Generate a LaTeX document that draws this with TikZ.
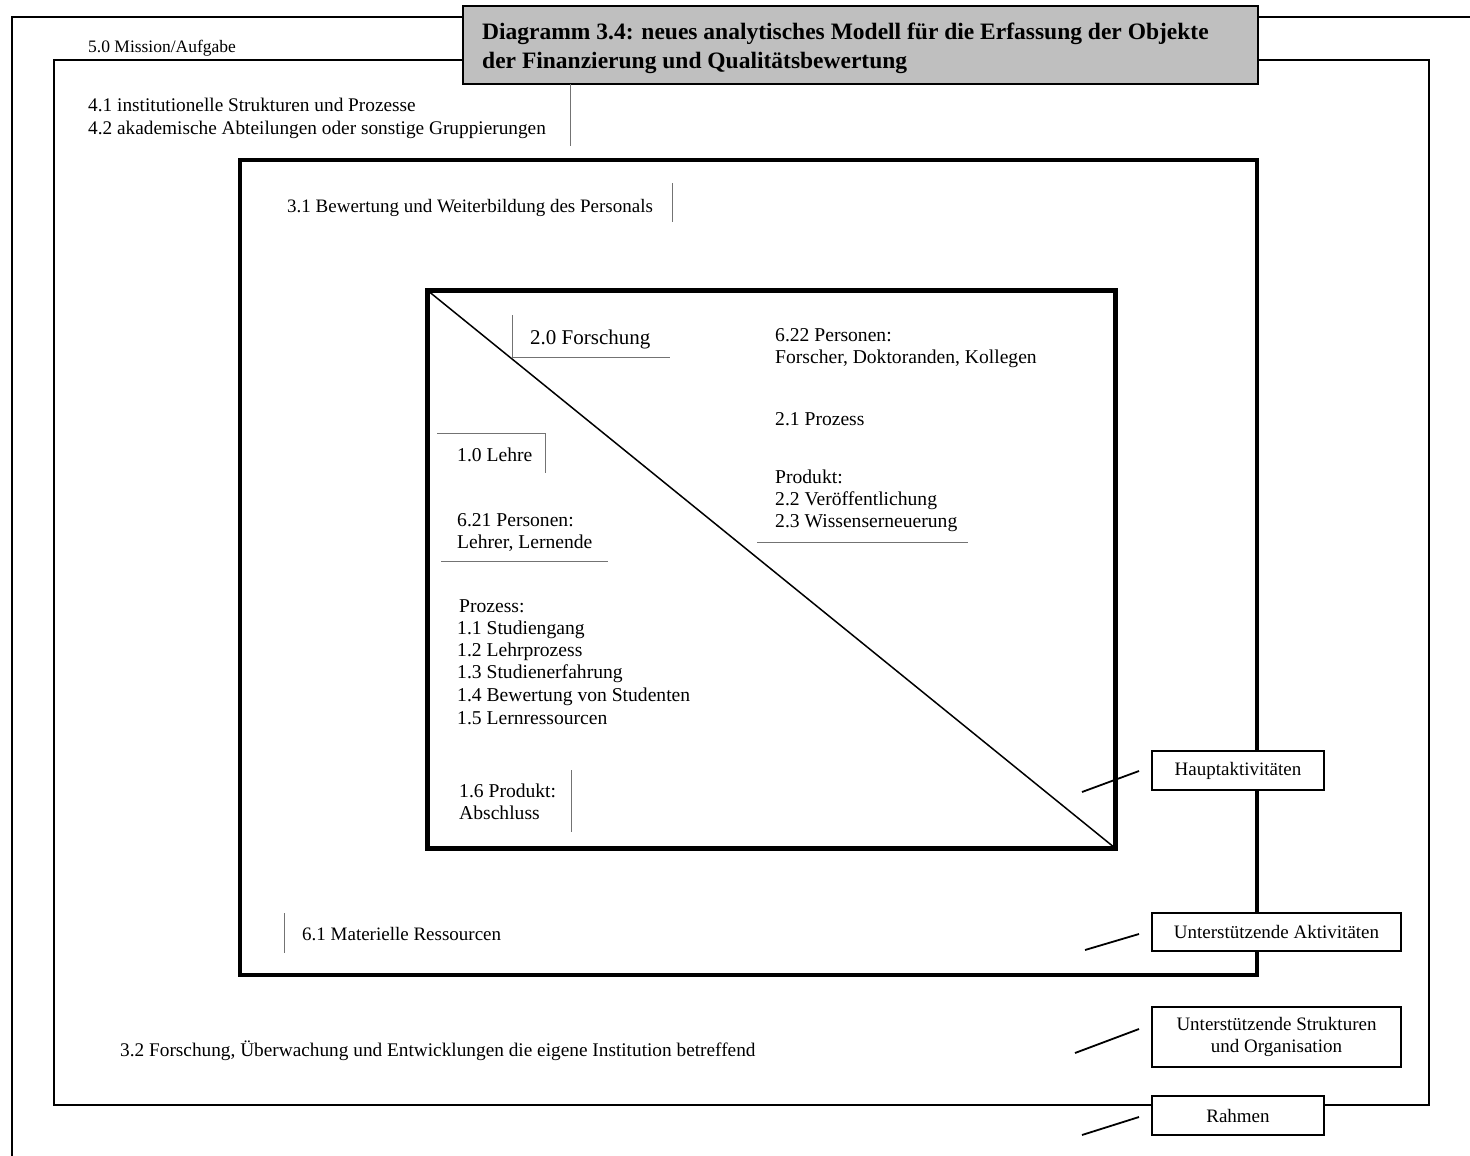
\documentclass[tikz,border=0pt]{standalone}
\usepackage{fontspec}
\setmainfont{Liberation Serif}
\begin{document}
\begin{tikzpicture}[x=1pt,y=-1pt,
  frame/.style={line width=1.5pt},
  thickframe/.style={line width=3.5pt},
  coreframe/.style={line width=5pt},
  guide/.style={line width=0.6pt,draw=black!55},
  smalllbl/.style={anchor=base west,inner sep=0pt,font=\fontsize{17.5}{20}\selectfont},
  lbl/.style={anchor=base west,inner sep=0pt,font=\fontsize{19.3}{22}\selectfont},
  midlbl/.style={anchor=base west,inner sep=0pt,font=\fontsize{19}{22}\selectfont},
  corelbl/.style={anchor=base west,inner sep=0pt,font=\fontsize{19.6}{23}\selectfont},
  keybox/.style={draw,line width=2pt,fill=white,inner sep=2pt,align=center,
    font=\fontsize{19}{22}\selectfont},
  leader/.style={line width=1.8pt}]
\useasboundingbox (0,0) rectangle (1470,1156);

% framework (outermost, open to the page edges)
\draw[frame] (1470,17) -- (12,17) -- (12,1156);

% mission frame
\draw[frame] (54,60) rectangle (1429,1105);

% support activities frame
\draw[thickframe] (240,160) rectangle (1257,975);

% core activities frame with the teaching/research split
\draw[coreframe] (427,290) rectangle (1115,848);
\coordinate (cornerTL) at (427,290);
\coordinate (cornerBR) at (1115,848);
\draw[line width=1.5pt] (cornerTL) -- (cornerBR);

% title
\node[draw,line width=2pt,fill=black!25,minimum width=795pt,minimum height=78pt,anchor=north west,inner sep=0pt] (title) at (462,5) {};
\node[anchor=base west,inner sep=0pt,font=\bfseries\fontsize{23.5}{26}\selectfont] (title1) at (482,40) {Diagramm 3.4: neues analytisches Modell für die Erfassung der Objekte};
\node[anchor=base west,inner sep=0pt,font=\bfseries\fontsize{23.5}{26}\selectfont] (title2) at (482,69) {der Finanzierung und Qualitätsbewertung};

% outer labels
\node[smalllbl] (mission) at (88,53) {5.0 Mission/Aufgabe};
\node[lbl] (inst1) at (88,111) {4.1 institutionelle Strukturen und Prozesse};
\node[lbl] (inst2) at (88,134) {4.2 akademische Abteilungen oder sonstige Gruppierungen};
\draw[guide] (570,84) -- (570,146);

\node[midlbl] (staff) at (287,212) {3.1 Bewertung und Weiterbildung des Personals};
\draw[guide] (672,183) -- (672,222);

\node[midlbl] (material) at (302,940) {6.1 Materielle Ressourcen};
\draw[guide] (284,913) -- (284,953);

\node[lbl] (monitor) at (120,1056) {3.2 Forschung, Überwachung und Entwicklungen die eigene Institution betreffend};

% research half
\node[corelbl,font=\fontsize{21}{23}\selectfont] (research) at (530,344) {2.0 Forschung};
\draw[guide] (512,315) -- (512,357) -- (670,357);

\node[corelbl] (rpers1) at (775,341) {6.22 Personen:};
\node[corelbl] (rpers2) at (775,363) {Forscher, Doktoranden, Kollegen};
\node[corelbl] (rproc) at (775,425) {2.1 Prozess};
\node[corelbl] (rprod0) at (775,483) {Produkt:};
\node[corelbl] (rprod1) at (775,505) {2.2 Veröffentlichung};
\node[corelbl] (rprod2) at (775,527) {2.3 Wissenserneuerung};
\draw[guide] (757,542) -- (968,542);

% teaching half
\node[corelbl] (teach) at (457,461) {1.0 Lehre};
\draw[guide] (437,433) -- (545,433) -- (545,473);

\node[corelbl] (tpers1) at (457,526) {6.21 Personen:};
\node[corelbl] (tpers2) at (457,548) {Lehrer, Lernende};
\draw[guide] (441,561) -- (608,561);

\node[corelbl] (tproc0) at (459,612) {Prozess:};
\node[corelbl] (tproc1) at (457,634) {1.1 Studiengang};
\node[corelbl] (tproc2) at (457,656) {1.2 Lehrprozess};
\node[corelbl] (tproc3) at (457,678) {1.3 Studienerfahrung};
\node[corelbl] (tproc4) at (457,701) {1.4 Bewertung von Studenten};
\node[corelbl] (tproc5) at (457,724) {1.5 Lernressourcen};

\node[corelbl] (tprod1) at (459,797) {1.6 Produkt:};
\node[corelbl] (tprod2) at (459,819) {Abschluss};
\draw[guide] (571,770) -- (571,832);

% legend boxes
\node[keybox,minimum width=172pt,minimum height=39pt] (kcore) at (1238,770.5) {Hauptaktivitäten};
\node[keybox,minimum width=249pt,minimum height=38pt] (ksupp) at (1276.5,932) {Unterstützende Aktivitäten};
\node[keybox,minimum width=249pt,minimum height=60pt] (kstruct) at (1276.5,1037) {Unterstützende Strukturen\\und Organisation};
\node[keybox,minimum width=172pt,minimum height=39pt] (kframe) at (1238,1115.5) {Rahmen};

% legend pointers
\coordinate (pcore) at (1082,792);
\coordinate (pcoreE) at (1139,771);
\coordinate (psupp) at (1085,950);
\coordinate (psuppE) at (1139,934);
\coordinate (pstruct) at (1075,1053);
\coordinate (pstructE) at (1139,1029);
\coordinate (pframe) at (1082,1135);
\coordinate (pframeE) at (1139,1117);
\draw[leader] (pcore) -- (pcoreE);
\draw[leader] (psupp) -- (psuppE);
\draw[leader] (pstruct) -- (pstructE);
\draw[leader] (pframe) -- (pframeE);
\end{tikzpicture}
\end{document}
